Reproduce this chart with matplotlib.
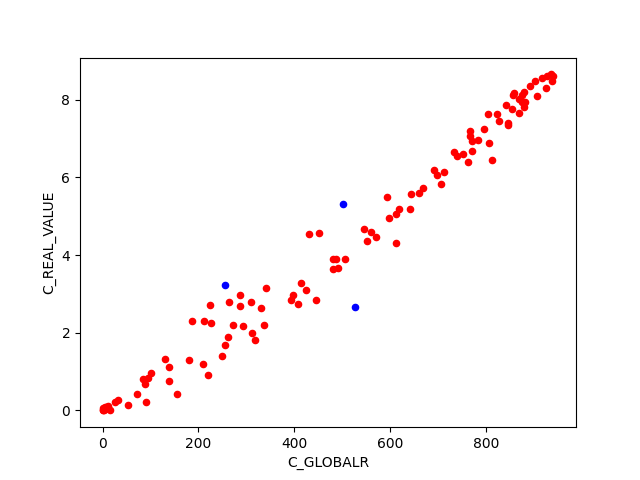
import numpy as np
import matplotlib
matplotlib.use("Agg")
import matplotlib.pyplot as plt

# puntos rojos (C_GLOBALR, C_REAL_VALUE)
globalr_rojo = [0, 0, 1, 2, 3, 5, 6, 8, 10, 12, 15,
                26, 33, 53, 71, 90, 85, 88, 95, 101, 130, 139, 139, 156,
                181, 186, 209, 219, 212, 226, 224, 250, 255, 261, 271, 264,
                286, 293, 286, 309, 330, 337, 312, 318, 341, 393, 396, 407,
                413, 425, 431, 452, 481, 486, 505, 481, 491, 445,
                546, 560, 571, 551, 611, 597, 612, 618, 594, 641, 642, 659,
                669, 690, 697, 711, 706, 733, 738, 751, 761, 770, 770, 782,
                805, 811, 765, 765, 795, 804, 822, 826, 845, 846, 841, 853,
                868, 855, 858, 869, 875, 879, 879, 881, 874, 905, 891, 902,
                916, 925, 927, 934, 940, 938]
real_rojo = [0.0, 0.02, 0.05, 0.0, 0.03, 0.08, 0.04, 0.1, 0.06, 0.12, 0.02,
             0.22, 0.27, 0.13, 0.43, 0.22, 0.82, 0.69, 0.83, 0.96, 1.33, 1.12, 0.75, 0.42,
             1.31, 2.30, 1.19, 0.90, 2.29, 2.26, 2.71, 1.40, 1.69, 1.88, 2.19, 2.79,
             2.68, 2.18, 2.97, 2.78, 2.63, 2.21, 2.00, 1.80, 3.15, 2.83, 2.98, 2.74,
             3.29, 3.10, 4.55, 4.56, 3.90, 3.90, 3.90, 3.63, 3.66, 2.85,
             4.67, 4.60, 4.46, 4.36, 4.30, 4.95, 5.05, 5.18, 5.49, 5.18, 5.58, 5.60,
             5.72, 6.19, 6.06, 6.13, 5.84, 6.65, 6.54, 6.61, 6.40, 6.69, 6.93, 6.95,
             6.89, 6.44, 7.06, 7.20, 7.24, 7.63, 7.63, 7.45, 7.40, 7.36, 7.86, 7.75,
             7.66, 8.11, 8.18, 8.01, 8.12, 8.19, 7.80, 7.94, 7.94, 8.10, 8.36, 8.48,
             8.56, 8.29, 8.62, 8.65, 8.60, 8.47]

# puntos azules
globalr_azul = [256, 502, 527]
real_azul = [3.24, 5.32, 2.67]

fig, ax = plt.subplots(figsize=(6.4, 4.8), dpi=100)
ax.scatter(globalr_rojo, real_rojo, c='red', s=20)
ax.scatter(globalr_azul, real_azul, c='blue', s=20)
ax.set_xlabel('C_GLOBALR')
ax.set_ylabel('C_REAL_VALUE')
fig.savefig('out.png')
